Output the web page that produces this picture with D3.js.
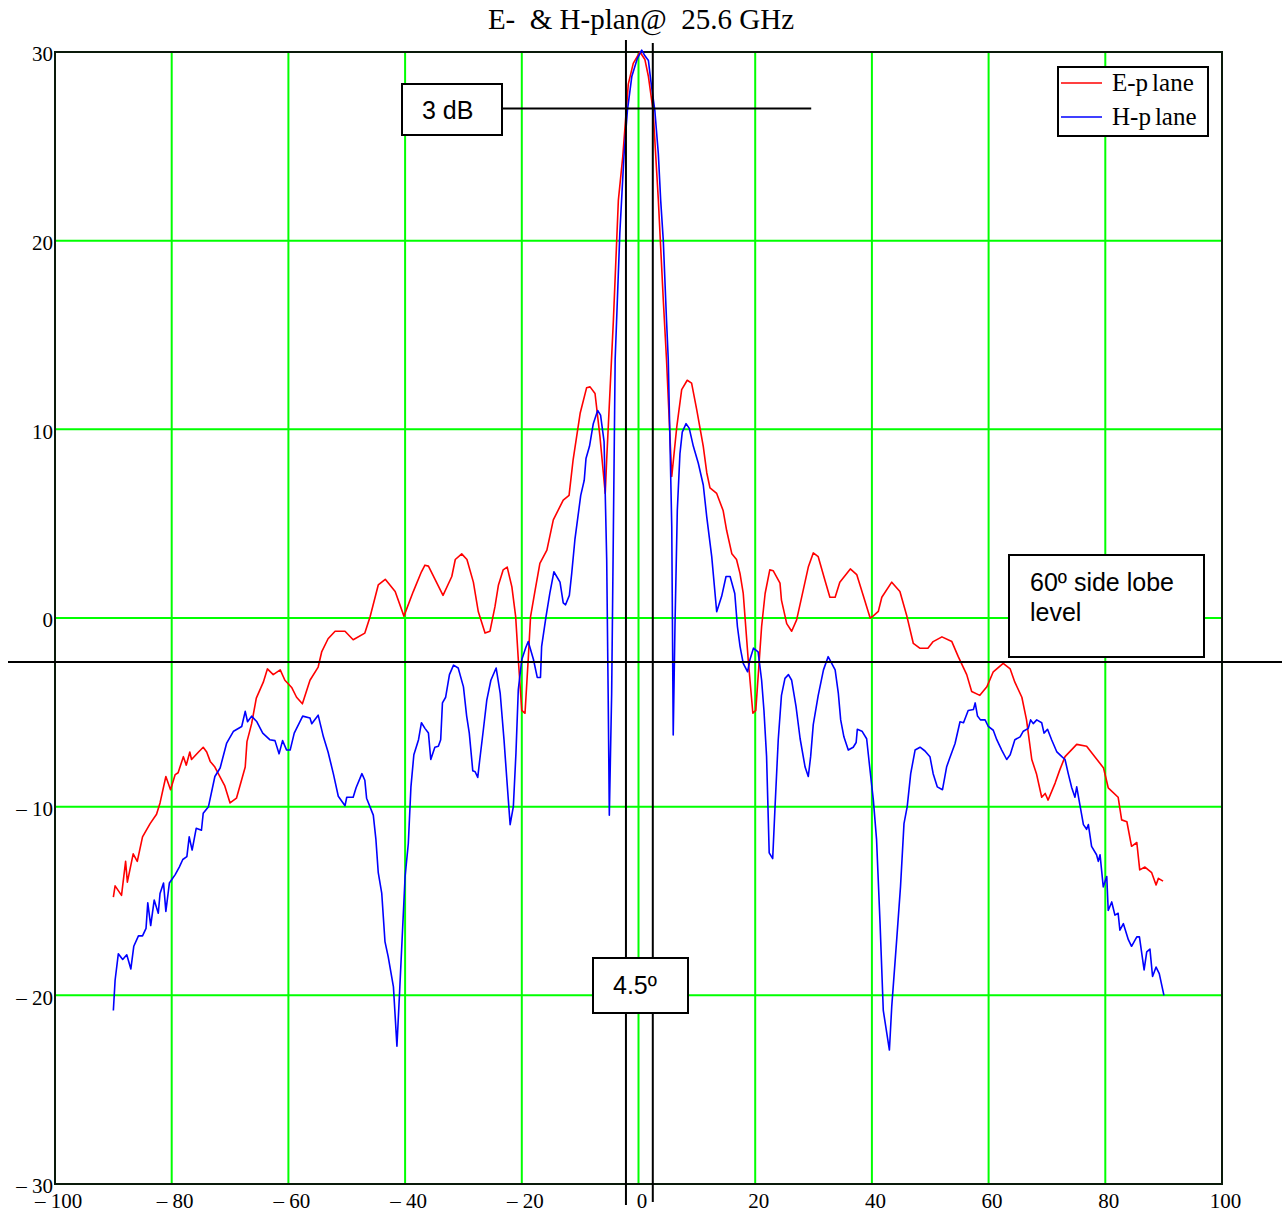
<!DOCTYPE html>
<meta charset='utf-8'>
<style>
  body { margin:0; background:#fff; }
  .grid line { stroke:#00ff00; stroke-width:2px; }
  .tick text { font-family:'Liberation Serif','Times New Roman',serif; font-size:21px; fill:#000; }
  .trace { fill:none; stroke-width:1.6px; stroke-linejoin:round; }
  .note { font-family:'Liberation Sans',Arial,sans-serif; font-size:25px; fill:#000; }
  .notebox { fill:#fff; stroke:#000; stroke-width:2px; }
</style>
<body>
<script src='https://d3js.org/d3.v7.min.js'></script>
<script>
  var width = 1282;
  var height = 1213;
  var margin = {left:55, top:52, right:60, bottom:29};

  var xTicks = [-100,-80,-60,-40,-20,0,20,40,60,80,100];
  var yTicks = [-30,-20,-10,0,10,20,30];

  // E-plane pattern [angle deg, dB]
  var ePlane = [[-90.0,-14.8],[-89.7,-14.2],[-88.6,-14.7],[-87.9,-12.9],[-87.6,-14.0],[-86.6,-12.5],[-85.9,-12.9],[-85.0,-11.6],[-83.7,-10.9],[-82.6,-10.4],[-82.0,-9.8],[-81.0,-8.4],[-80.2,-9.1],[-79.4,-8.3],[-78.9,-8.2],[-78.0,-7.35],[-77.5,-7.8],[-76.9,-7.1],[-76.6,-7.5],[-75.4,-7.1],[-74.6,-6.85],[-74.0,-7.1],[-73.4,-7.6],[-72.6,-7.9],[-70.9,-8.9],[-70.0,-9.8],[-68.9,-9.55],[-67.4,-7.9],[-67.1,-6.55],[-66.3,-5.6],[-65.5,-4.25],[-64.3,-3.4],[-63.6,-2.7],[-62.6,-3.0],[-61.4,-2.75],[-60.6,-3.3],[-59.4,-3.7],[-58.6,-4.2],[-57.6,-4.55],[-56.3,-3.3],[-54.9,-2.6],[-54.3,-1.8],[-53.2,-1.1],[-52.0,-0.7],[-50.3,-0.7],[-48.9,-1.15],[-46.9,-0.8],[-46.0,0.07],[-44.6,1.75],[-43.4,2.05],[-41.7,1.4],[-40.2,0.1],[-38.6,1.4],[-37.2,2.45],[-36.6,2.8],[-36.0,2.75],[-33.5,1.2],[-32.0,2.2],[-31.4,3.1],[-30.3,3.4],[-29.4,3.1],[-28.3,1.9],[-27.45,0.33],[-26.3,-0.8],[-25.45,-0.7],[-24.6,0.6],[-24.0,1.75],[-23.2,2.55],[-22.5,2.7],[-21.7,1.65],[-21.05,0.07],[-20.6,-2.2],[-20.0,-4.9],[-19.45,-5.05],[-18.9,-2.2],[-18.5,0.07],[-17.7,1.5],[-16.9,2.9],[-15.7,3.6],[-14.6,5.2],[-12.9,6.25],[-11.9,6.5],[-11.2,8.4],[-10.0,10.85],[-8.9,12.2],[-8.3,12.25],[-7.45,11.9],[-6.6,9.6],[-5.7,6.6],[-5.45,8.4],[-4.3,15.8],[-3.45,22.15],[-2.7,24.45],[-1.75,28.3],[-0.9,29.4],[0.25,30.0],[1.1,29.6],[1.7,28.7],[2.5,26.9],[3.4,22.15],[4.25,16.85],[4.8,13.7],[5.7,7.5],[6.55,10.1],[7.4,12.1],[8.35,12.6],[9.1,12.45],[10.0,11.0],[11.1,9.1],[11.7,7.7],[12.25,6.9],[13.4,6.6],[14.5,5.7],[15.1,4.65],[16.0,3.4],[16.8,3.1],[17.4,2.35],[17.95,1.3],[18.8,-2.2],[19.6,-5.05],[20.1,-4.9],[21.1,-0.45],[21.7,1.3],[22.5,2.55],[23.1,2.5],[24.25,1.85],[24.5,0.95],[25.4,-0.3],[26.25,-0.7],[27.1,-0.1],[28.25,1.5],[29.1,2.7],[29.95,3.45],[30.8,3.25],[31.95,2.0],[32.8,1.1],[33.7,1.1],[34.5,1.9],[36.3,2.6],[37.4,2.3],[38.5,1.2],[39.7,0.0],[40.2,0.1],[41.1,0.35],[41.7,1.1],[43.4,1.9],[44.8,1.4],[45.95,0.15],[47.1,-1.35],[48.2,-1.6],[49.6,-1.6],[50.5,-1.25],[52.0,-1.0],[53.7,-1.25],[54.8,-2.05],[56.25,-3.0],[57.1,-3.9],[58.5,-4.1],[59.7,-3.65],[60.8,-2.85],[62.5,-2.4],[63.7,-2.7],[64.5,-3.4],[65.7,-4.2],[66.5,-5.4],[67.4,-7.5],[68.2,-8.25],[69.1,-9.5],[69.7,-9.3],[70.2,-9.65],[71.4,-8.75],[72.2,-8.05],[73.1,-7.35],[75.1,-6.7],[76.8,-6.8],[78.2,-7.35],[79.7,-7.95],[80.5,-9.0],[82.2,-9.5],[82.8,-10.7],[83.7,-10.8],[84.5,-12.1],[85.4,-11.9],[85.9,-13.35],[86.8,-13.2],[87.95,-13.5],[88.7,-14.15],[89.1,-13.8],[89.9,-13.95]];

  // H-plane pattern [angle deg, dB]
  var hPlane = [[-90.0,-20.8],[-89.7,-19.2],[-89.15,-17.8],[-88.4,-18.1],[-87.7,-17.85],[-87.0,-18.6],[-86.5,-17.4],[-85.7,-16.85],[-85.0,-16.85],[-84.4,-16.45],[-84.1,-15.1],[-83.6,-16.3],[-83.0,-14.95],[-82.3,-15.65],[-82.0,-14.6],[-81.4,-14.05],[-81.0,-15.55],[-80.4,-14.05],[-79.4,-13.6],[-78.7,-13.2],[-78.1,-12.8],[-77.4,-12.65],[-77.0,-11.6],[-76.5,-12.3],[-75.8,-11.15],[-74.9,-11.25],[-74.6,-10.35],[-73.7,-10.0],[-72.6,-8.4],[-71.7,-7.95],[-70.6,-6.65],[-69.4,-6.0],[-68.0,-5.75],[-67.4,-4.95],[-67.0,-5.5],[-66.3,-5.2],[-65.4,-5.5],[-64.4,-6.1],[-63.2,-6.45],[-62.3,-6.5],[-61.6,-7.2],[-61.0,-6.5],[-60.3,-7.0],[-59.7,-7.0],[-59.0,-6.1],[-57.55,-5.2],[-56.3,-5.3],[-56.0,-5.6],[-54.9,-5.15],[-54.0,-6.3],[-53.2,-7.1],[-52.3,-8.25],[-51.45,-9.45],[-50.3,-9.95],[-50.0,-9.5],[-48.9,-9.5],[-48.4,-9.0],[-47.4,-8.25],[-46.9,-8.6],[-46.6,-9.55],[-45.45,-10.45],[-45.0,-11.75],[-44.6,-13.5],[-44.0,-14.6],[-43.45,-17.15],[-42.9,-17.95],[-42.0,-19.55],[-41.4,-22.7],[-40.9,-19.55],[-40.0,-13.7],[-39.45,-11.95],[-39.0,-8.95],[-38.5,-7.25],[-37.7,-6.45],[-37.2,-5.55],[-36.6,-5.85],[-36.0,-6.1],[-35.6,-7.5],[-34.9,-6.85],[-34.3,-6.8],[-33.9,-6.45],[-33.6,-4.5],[-33.05,-4.2],[-32.4,-3.0],[-31.7,-2.5],[-30.9,-2.65],[-30.0,-3.65],[-29.45,-5.2],[-29.0,-6.1],[-28.4,-8.1],[-28.0,-8.15],[-27.55,-8.45],[-27.2,-7.5],[-26.6,-5.95],[-26.0,-4.35],[-25.3,-3.3],[-24.4,-2.65],[-23.7,-4.0],[-23.05,-6.45],[-22.6,-8.4],[-22.0,-10.95],[-21.45,-10.0],[-21.0,-7.15],[-20.6,-3.8],[-20.0,-2.2],[-19.3,-1.55],[-18.9,-1.25],[-18.0,-2.2],[-17.35,-3.15],[-16.8,-3.15],[-16.6,-1.5],[-15.85,0.07],[-15.2,1.3],[-14.5,2.45],[-13.45,1.9],[-12.9,0.8],[-12.5,0.7],[-11.85,1.2],[-11.45,2.35],[-10.9,4.15],[-9.9,6.5],[-9.3,7.3],[-9.0,8.45],[-8.4,9.1],[-7.75,10.3],[-7.0,11.0],[-6.5,10.75],[-5.9,9.35],[-5.45,3.1],[-5.2,-4.0],[-5.0,-10.45],[-4.6,-4.0],[-4.3,4.85],[-4.0,13.7],[-3.75,15.8],[-3.2,20.4],[-2.5,24.45],[-1.9,26.9],[-1.15,28.7],[-0.2,29.65],[0.55,30.1],[1.1,29.8],[1.7,29.55],[2.1,28.5],[2.8,26.9],[3.4,24.6],[3.8,22.15],[4.25,20.0],[4.8,15.8],[5.1,13.7],[5.7,4.85],[5.95,-6.2],[6.25,-0.45],[6.65,5.7],[7.1,8.7],[7.5,9.85],[8.15,10.3],[8.7,10.05],[9.4,9.1],[10.25,8.2],[11.1,7.05],[11.7,5.35],[12.55,3.25],[13.4,0.33],[14.25,1.15],[15.0,2.2],[15.7,2.2],[16.5,1.3],[16.95,-0.45],[17.4,-1.5],[17.95,-2.4],[18.7,-2.85],[19.1,-2.2],[19.7,-1.6],[20.5,-1.8],[21.1,-3.3],[21.5,-4.9],[21.95,-7.35],[22.4,-12.45],[23.0,-12.75],[23.4,-10.0],[23.95,-6.45],[24.5,-4.1],[25.1,-3.2],[25.7,-3.0],[26.25,-3.3],[27.0,-4.7],[27.7,-6.4],[28.55,-7.9],[29.1,-8.4],[29.5,-7.35],[29.95,-5.65],[30.8,-4.1],[31.7,-2.75],[32.5,-2.05],[33.7,-2.75],[34.25,-4.0],[34.65,-5.4],[35.2,-6.3],[35.95,-7.0],[36.8,-6.85],[37.3,-6.6],[37.5,-5.9],[38.3,-6.0],[39.1,-6.4],[39.55,-7.7],[40.25,-9.65],[40.8,-11.75],[41.4,-16.2],[41.95,-20.8],[43.0,-22.9],[43.4,-20.6],[44.25,-17.05],[44.9,-14.25],[45.5,-10.9],[46.05,-10.0],[46.65,-8.25],[47.4,-7.0],[48.25,-6.85],[49.1,-7.05],[49.95,-7.35],[50.5,-8.25],[51.2,-8.95],[52.1,-9.1],[52.8,-7.9],[53.25,-7.5],[54.25,-6.65],[55.1,-5.5],[55.7,-5.55],[56.5,-4.9],[57.4,-4.85],[57.7,-4.5],[58.1,-5.2],[58.6,-5.4],[59.4,-5.4],[59.95,-5.75],[60.8,-5.95],[61.4,-6.45],[62.25,-7.0],[63.1,-7.5],[63.7,-7.25],[64.5,-6.45],[65.4,-6.3],[65.95,-6.0],[66.8,-5.85],[67.2,-5.4],[67.65,-5.6],[68.25,-5.4],[69.1,-5.55],[69.5,-6.1],[70.1,-5.9],[70.8,-6.45],[71.7,-7.1],[72.55,-7.35],[73.1,-7.5],[73.65,-8.25],[74.25,-9.0],[74.8,-9.5],[75.1,-8.95],[75.7,-10.0],[76.25,-10.95],[76.8,-11.2],[77.1,-10.95],[77.65,-12.1],[78.5,-12.55],[78.8,-12.9],[79.1,-12.55],[79.65,-14.25],[80.25,-13.7],[80.5,-15.5],[81.1,-15.05],[81.65,-15.75],[82.2,-15.65],[82.5,-16.55],[83.1,-16.2],[83.95,-17.05],[84.5,-17.4],[85.4,-16.9],[85.85,-16.9],[86.65,-18.65],[87.1,-17.7],[87.65,-17.55],[88.1,-19.0],[88.7,-18.5],[89.25,-18.85],[90.05,-20.0]];

  // annotation values
  var beamEdges = [-2.15, 2.45];   // 3 dB beam edges, deg
  var halfPower = 27;              // peak - 3 dB
  var halfPowerLineEnd = 29.6;
  var sideLobeLevel = -2.33;

  var svg = d3.select('body').append('svg')
    .attr('width',width)
    .attr('height',height);

  var x = d3.scaleLinear().domain([-100,100]).range([margin.left,width-margin.right]);
  var y = d3.scaleLinear().domain([-30,30]).range([height-margin.bottom,margin.top]);

  var fmt = function(d) { return d < 0 ? '\u2013 ' + Math.abs(d) : String(d); };

  // grid -----------------------------------------------------------------
  var grid = svg.append('g').attr('class','grid');
  grid.selectAll('.vx').data(xTicks.slice(1,-1)).enter().append('line')
    .attr('x1',function(d){return x(d);}).attr('x2',function(d){return x(d);})
    .attr('y1',y(30)).attr('y2',y(-30));
  grid.selectAll('.hy').data(yTicks.slice(1,-1)).enter().append('line')
    .attr('x1',x(-100)).attr('x2',x(100))
    .attr('y1',function(d){return y(d);}).attr('y2',function(d){return y(d);});

  // axes (labels only)
  svg.append('g')
    .attr('transform','translate(0,'+y(-30)+')')
    .call(d3.axisBottom(x).tickValues(xTicks).tickSize(0).tickFormat(fmt))
    .call(function(g){ g.select('.domain').remove(); })
    .selectAll('text').attr('dx',3).attr('dy','0.75em').attr('y',8);

  svg.append('g')
    .attr('transform','translate('+x(-100)+',0)')
    .call(d3.axisLeft(y).tickValues(yTicks).tickSize(0).tickFormat(fmt))
    .call(function(g){ g.select('.domain').remove(); })
    .selectAll('text').attr('x',-2).attr('dy','0.42em');

  // frame
  svg.append('rect')
    .attr('x',x(-100)).attr('y',y(30))
    .attr('width',x(100)-x(-100)).attr('height',y(-30)-y(30))
    .attr('fill','none').attr('stroke','#0a1a0a').attr('stroke-width',2);

  // traces ---------------------------------------------------------------
  var line = d3.line().x(function(d){return x(d[0]);}).y(function(d){return y(d[1]);});

  svg.append('path').datum(ePlane).attr('class','trace').attr('stroke','#ff0000').attr('d',line);
  svg.append('path').datum(hPlane).attr('class','trace').attr('stroke','#0000ff').attr('d',line);

  // annotations ----------------------------------------------------------
  var ann = svg.append('g').attr('stroke','#000').attr('stroke-width',2);
  ann.append('line').attr('x1',8).attr('x2',width).attr('y1',y(sideLobeLevel)).attr('y2',y(sideLobeLevel));
  ann.selectAll('.edge').data(beamEdges).enter().append('line')
    .attr('x1',function(d){return x(d);}).attr('x2',function(d){return x(d);})
    .attr('y1',function(d,i){return i ? 43 : 40;})
    .attr('y2',function(d,i){return i ? 1202 : 1205;});
  ann.append('line').attr('x1',502).attr('x2',x(halfPowerLineEnd)).attr('y1',y(halfPower)).attr('y2',y(halfPower));

  function noteBox(x0,y0,w,h,lines,tx,ty,lh) {
    svg.append('rect').attr('class','notebox').attr('x',x0).attr('y',y0).attr('width',w).attr('height',h);
    var t = svg.append('text').attr('class','note').attr('x',tx).attr('y',ty);
    lines.forEach(function(s,i){
      t.append('tspan').attr('x',tx).attr('dy',i ? lh : 0).text(s);
    });
  }
  noteBox(402,84,100,51,['3 dB'],422,119,0);
  noteBox(593,958,95,55,['4.5\u00ba'],613,994,0);
  noteBox(1009,555,195,102,['60\u00ba side lobe','level'],1030,591,30);

  // title
  svg.append('text')
    .attr('x',641).attr('y',29)
    .attr('text-anchor','middle')
    .style('font-family',"'Liberation Serif','Times New Roman',serif")
    .style('font-size','29px')
    .style('white-space','pre')
    .text('E-  & H-plan@  25.6 GHz');

  // legend
  var lg = svg.append('g');
  lg.append('rect').attr('x',1058).attr('y',67).attr('width',150).attr('height',69)
    .attr('fill','#fff').attr('stroke','#000').attr('stroke-width',2);
  var items = [['E-p','lane','#ff0000'],['H-p','lane','#0000ff']];
  items.forEach(function(d,i){
    var yy = 83 + i*34;
    lg.append('line').attr('x1',1061).attr('x2',1102).attr('y1',yy).attr('y2',yy)
      .attr('stroke',d[2]).attr('stroke-width',1.6);
    var t = lg.append('text').attr('x',1112).attr('y',yy+8)
      .style('font-family',"'Liberation Serif','Times New Roman',serif")
      .style('font-size','25px');
    t.append('tspan').text(d[0]);
    t.append('tspan').attr('dx',4).text(d[1]);
  });
</script>
</body>
